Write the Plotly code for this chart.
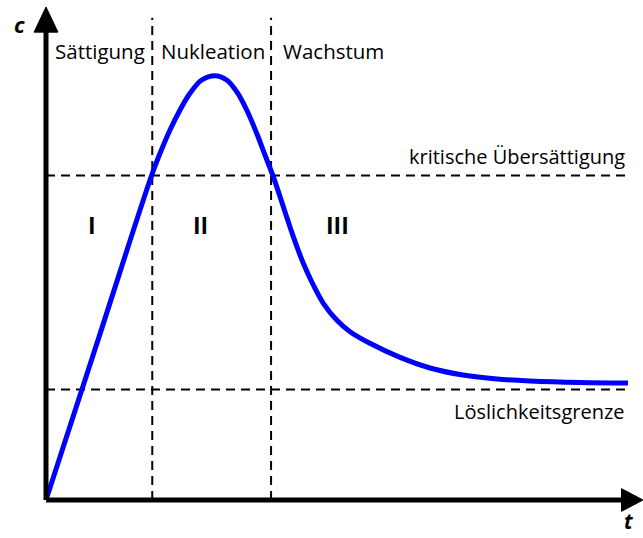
import plotly.graph_objects as go

# LaMer-Diagramm: Konzentration c über Zeit t (willkürliche Einheiten 0..100)
t_werte = [0, 8.85, 17.71, 19.10, 20.77, 22.45, 24.12, 26.08, 28.31, 30.27, 31.94,
           33.62, 35.29, 36.68, 38.07, 39.75, 41.42, 43.10, 44.77, 46.45, 48.69,
           50.92, 54.27, 59.01, 64.32, 69.85, 75.54, 81.07, 89.45, 97.49]
c_werte = [0, 32.96, 65.92, 70.32, 75.05, 79.11, 82.49, 85.19, 86.06, 85.19, 82.82,
           79.11, 74.38, 69.98, 65.58, 59.49, 53.41, 48.01, 43.61, 39.90, 36.51,
           34.14, 31.78, 29.07, 26.77, 25.35, 24.54, 24.14, 23.83, 23.73]

grenz_namen = ["kritische Übersättigung", "Löslichkeitsgrenze"]
grenz_werte = [65.8, 22.4]
phasen_namen = ["Sättigung", "Nukleation", "Wachstum"]
phasen_mitte = [9.05, 28.0, 48.1]
phasen_grenzen = [17.8, 37.7]
roemisch = ["I", "II", "III"]
roemisch_t = [7.7, 25.8, 48.9]

T_MAX, C_MAX = 100, 100
LINIE_ENDE = 97.5
schrift = "Open Sans"

fig = go.Figure()

# Konzentrationsverlauf
fig.add_trace(go.Scatter(x=t_werte, y=c_werte, mode="lines",
                         line=dict(color="#0000ff", width=5, shape="spline", smoothing=1.0),
                         cliponaxis=False, hoverinfo="skip"))

# gestrichelte Hilfslinien
for g in grenz_werte:
    fig.add_shape(type="line", x0=0, x1=LINIE_ENDE, y0=g, y1=g,
                  line=dict(color="black", width=2, dash="9px,6px"), layer="below")
for p in phasen_grenzen:
    fig.add_shape(type="line", x0=p, x1=p, y0=0, y1=97.8,
                  line=dict(color="black", width=2, dash="9px,6px"), layer="below")

# Achsen mit Pfeilspitzen
fig.add_shape(type="line", x0=0, x1=97, y0=0, y1=0, line=dict(color="black", width=5))
fig.add_shape(type="line", x0=0, x1=0, y0=0, y1=96, line=dict(color="black", width=5))
fig.add_shape(type="path", path=f"M 96.4,-2.3 L {T_MAX},0 L 96.4,2.3 Z",
              fillcolor="black", line=dict(color="black", width=1))
fig.add_shape(type="path", path=f"M -2.0,94.9 L 0,{C_MAX} L 2.0,94.9 Z",
              fillcolor="black", line=dict(color="black", width=1))

fig.add_annotation(x=-4.4, y=96.6, text="<b><i>c</i></b>", showarrow=False,
                   font=dict(family=schrift, size=22, color="black"))
fig.add_annotation(x=97.6, y=-4.3, text="<b><i>t</i></b>", showarrow=False,
                   font=dict(family=schrift, size=21, color="black"))

for name, tm in zip(phasen_namen, phasen_mitte):
    fig.add_annotation(x=tm, y=91.0, text=name, showarrow=False,
                       font=dict(family=schrift, size=20.5, color="black"))

fig.add_annotation(x=97.4, y=69.6, text=grenz_namen[0], showarrow=False, xanchor="right",
                   font=dict(family=schrift, size=20, color="black"))
fig.add_annotation(x=97.4, y=18.0, text=grenz_namen[1], showarrow=False, xanchor="right",
                   font=dict(family=schrift, size=20, color="black"))

for r, tr in zip(roemisch, roemisch_t):
    fig.add_annotation(x=tr, y=55.8, text=f"<b>{r}</b>", showarrow=False,
                       font=dict(family=schrift, size=23, color="black"))

fig.update_layout(
    width=643, height=538,
    margin=dict(l=0, r=0, t=0, b=0),
    plot_bgcolor="white", paper_bgcolor="white",
    showlegend=False,
    xaxis=dict(range=[-7.705, 100], visible=False, fixedrange=True),
    yaxis=dict(range=[-7.71, 101.42], visible=False, fixedrange=True),
)

# Seitenrand des Browsers entfernen, damit die Grafik das Fenster genau füllt
fig.write_html("out.html", config={"displayModeBar": False},
               post_script="document.body.style.margin='0';"
                           "document.body.style.overflow='hidden';")
